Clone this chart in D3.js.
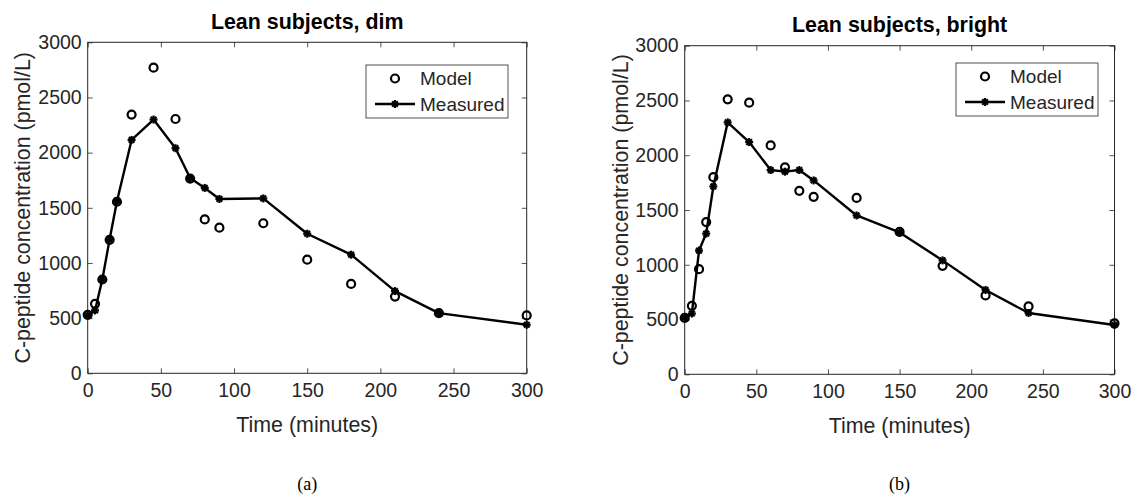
<!DOCTYPE html>
<html><head><meta charset="utf-8">
<script src="https://cdn.jsdelivr.net/npm/d3@7"></script>
<style>body{margin:0;background:#fff}svg{display:block}text{font-family:"Liberation Sans",Arial,sans-serif}</style>
</head><body>
<svg id="c" width="1134" height="500"></svg>
<script>
// ---- data ----
const times = [0,5,10,15,20,30,45,60,70,80,90,120,150,180,210,240,300];
const measuredDim = [525,570,850,1215,1560,2115,2300,2040,1770,1680,1580,1585,1265,1075,745,545,440];
const modelDim    = [530,630,850,1210,1555,2345,2770,2305,1765,1395,1320,1360,1030,810,695,545,525];
const measuredBright = [515,555,1130,1285,1715,2300,2120,1865,1850,1865,1770,1450,1295,1040,770,560,450];
const modelBright    = [515,625,960,1390,1800,2510,2480,2090,1890,1675,1620,1610,1300,990,720,620,465];
const xTicks = [0,50,100,150,200,250,300];
const yTicks = [0,500,1000,1500,2000,2500,3000];
const titles = ["Lean subjects, dim","Lean subjects, bright"];
const captions = ["(a)","(b)"];
const legendLabels = ["Model","Measured"];
const xLabel = "Time (minutes)";
const yLabel = "C-peptide concentration (pmol/L)";

// ---- layout ----
const panels = [
  {model:modelDim, measured:measuredDim, x0:87.7, x1:526.7, y0:42.3, y1:373.3, lx:366, ly:65, ylx:30, tb:28.6},
  {model:modelBright, measured:measuredBright, x0:684.7, x1:1114.5, y0:45.7, y1:374.3, lx:956, ly:63, ylx:628, tb:32}
];
const svg = d3.select("#c");
const axisCol = "#262626";
const tickFont = 19.5, labFont = 21.4;

function asterisk(g, cx, cy, r){
  const a = [0, 45, 90, 135];
  a.forEach(d=>{
    const rad = d*Math.PI/180;
    g.append("line").attr("x1",cx-r*Math.cos(rad)).attr("y1",cy-r*Math.sin(rad))
      .attr("x2",cx+r*Math.cos(rad)).attr("y2",cy+r*Math.sin(rad))
      .attr("stroke","#000").attr("stroke-width",2.2);
  });
}

panels.forEach((p,i)=>{
  const x = d3.scaleLinear().domain([0,300]).range([p.x0,p.x1]);
  const y = d3.scaleLinear().domain([0,3000]).range([p.y1,p.y0]);
  const g = svg.append("g");

  // axes
  const styleAxis = sel=>{
    sel.select(".domain").remove();
    sel.selectAll(".tick line").attr("stroke",axisCol).attr("stroke-width",0.8);
    sel.selectAll("text").attr("fill",axisCol).style("font-size",tickFont+"px")
      .style("font-family",'"Liberation Sans",Arial,sans-serif');
  };
  g.append("g").attr("transform",`translate(0,${p.y1})`)
    .call(d3.axisBottom(x).tickValues(xTicks).tickSize(-5).tickPadding(10).tickFormat(d3.format("d")))
    .call(styleAxis);
  g.append("g").attr("transform",`translate(0,${p.y0})`)
    .call(d3.axisTop(x).tickValues(xTicks).tickSize(-5).tickFormat(""))
    .call(styleAxis);
  g.append("g").attr("transform",`translate(${p.x0},0)`)
    .call(d3.axisLeft(y).tickValues(yTicks).tickSize(-5).tickPadding(6).tickFormat(d3.format("d")))
    .call(styleAxis);
  g.append("g").attr("transform",`translate(${p.x1},0)`)
    .call(d3.axisRight(y).tickValues(yTicks).tickSize(-5).tickFormat(""))
    .call(styleAxis);
  g.append("rect").attr("x",p.x0).attr("y",p.y0).attr("width",p.x1-p.x0).attr("height",p.y1-p.y0)
    .attr("fill","none").attr("stroke",axisCol).attr("stroke-width",1);

  // measured line
  const pts = times.map((t,k)=>[t,p.measured[k]]);
  g.append("path").datum(pts)
    .attr("d",d3.line().x(d=>x(d[0])).y(d=>y(d[1])))
    .attr("fill","none").attr("stroke","#000").attr("stroke-width",2.4).attr("stroke-linejoin","round");
  pts.forEach(d=>asterisk(g,x(d[0]),y(d[1]),4));
  // model markers
  g.selectAll("circle.m").data(times.map((t,k)=>[t,p.model[k]])).enter().append("circle")
    .attr("cx",d=>x(d[0])).attr("cy",d=>y(d[1])).attr("r",4)
    .attr("fill","none").attr("stroke","#000").attr("stroke-width",2.2);

  // title
  g.append("text").attr("x",(p.x0+p.x1)/2).attr("y",p.tb).attr("text-anchor","middle")
    .style("font-size",labFont+"px").style("font-weight","bold").attr("fill","#000").text(titles[i]);
  // x label
  g.append("text").attr("x",(p.x0+p.x1)/2).attr("y",p.y1+58.5).attr("text-anchor","middle")
    .style("font-size",labFont+"px").attr("fill",axisCol).text(xLabel);
  // y label
  g.append("text").attr("transform",`translate(${p.ylx},${(p.y0+p.y1)/2}) rotate(-90)`).attr("text-anchor","middle")
    .style("font-size",labFont+"px").attr("fill",axisCol).text(yLabel);
  // caption
  g.append("text").attr("x",(p.x0+p.x1)/2).attr("y",490).attr("text-anchor","middle")
    .style("font-size","18px").style("font-family",'"Liberation Serif","Times New Roman",serif').attr("fill","#000").text(captions[i]);

  // legend
  const L = g.append("g");
  L.append("rect").attr("x",p.lx).attr("y",p.ly).attr("width",142).attr("height",53)
    .attr("fill","#fff").attr("stroke",axisCol).attr("stroke-width",0.8);
  L.append("circle").attr("cx",p.lx+29).attr("cy",p.ly+13.5).attr("r",4)
    .attr("fill","none").attr("stroke","#000").attr("stroke-width",2.2);
  L.append("line").attr("x1",p.lx+9).attr("x2",p.lx+49).attr("y1",p.ly+39).attr("y2",p.ly+39)
    .attr("stroke","#000").attr("stroke-width",2.4);
  asterisk(L,p.lx+29,p.ly+39,4);
  legendLabels.forEach((t,k)=>{
    L.append("text").attr("x",p.lx+54).attr("y",p.ly+13.5+k*25.5).attr("dy","0.35em")
      .style("font-size","19px").attr("fill",axisCol).text(t);
  });
});
</script>
</body></html>
